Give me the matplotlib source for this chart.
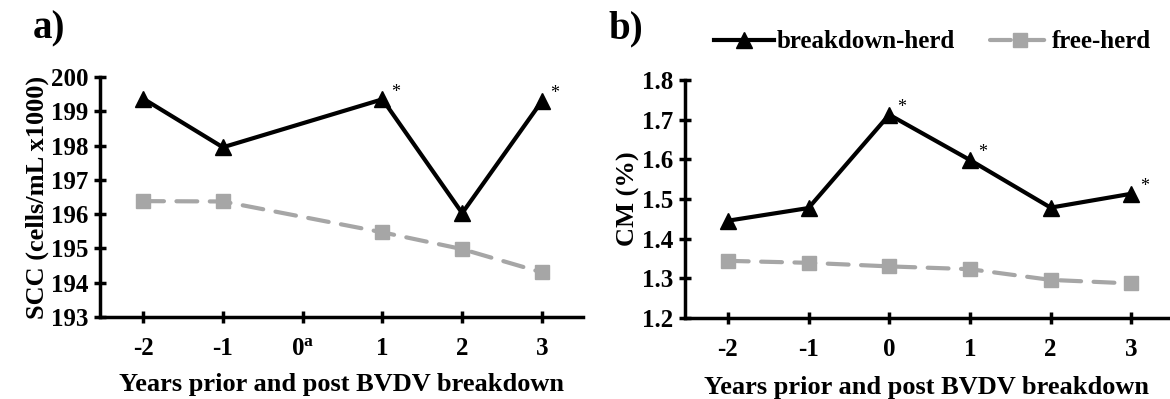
import matplotlib
matplotlib.use('Agg')
import matplotlib.pyplot as plt

years = [-2, -1, 0, 1, 2, 3]

# panel a) SCC
scc_years = [-2, -1, 1, 2, 3]
scc_breakdown = [199.37, 197.95, 199.35, 196.03, 199.3]
scc_free_years = [-2, -1, 1, 2, 3]
scc_free = [196.38, 196.37, 195.47, 194.98, 194.3]
scc_star_years = [1, 3]
scc_ticklabels = ['-2', '-1', '0$^{\\mathrm{a}}$', '1', '2', '3']

# panel b) CM
cm_breakdown = [1.445, 1.477, 1.712, 1.598, 1.478, 1.513]
cm_free = [1.344, 1.339, 1.330, 1.323, 1.296, 1.287]
cm_star_years = [0, 1, 3]
cm_ticklabels = ['-2', '-1', '0', '1', '2', '3']

GRAY = '#a6a6a6'

plt.rcParams['font.family'] = 'Liberation Serif'
plt.rcParams['font.weight'] = 'bold'
plt.rcParams['axes.labelweight'] = 'bold'
plt.rcParams['mathtext.fontset'] = 'custom'
plt.rcParams['mathtext.rm'] = 'Liberation Serif:bold'
plt.rcParams['mathtext.it'] = 'Liberation Serif:bold'

fig = plt.figure(figsize=(11.7, 3.99), dpi=100)
ax1 = fig.add_axes([0.0855, 0.2055, 0.4125, 0.6015])
ax2 = fig.add_axes([0.5855, 0.203, 0.4125, 0.597])


def style_axis(ax):
    for side in ['top', 'right']:
        ax.spines[side].set_visible(False)
    for side in ['left', 'bottom']:
        ax.spines[side].set_linewidth(2.5)
    ax.tick_params(direction='inout', length=9, width=2.5, labelsize=18, pad=4)
    ax.tick_params(axis='x', pad=10)


def draw(ax, xb, yb, xf, yf):
    ax.plot(xf, yf, color=GRAY, lw=3, dashes=(5, 3), dash_capstyle='round',
            marker='s', markersize=10, label='free-herd', zorder=2)
    ax.plot(xb, yb, color='black', lw=3, marker='^', markersize=11.5,
            label='breakdown-herd', zorder=3)


def stars(ax, xs, xdata, ydata):
    for x in xs:
        y = ydata[xdata.index(x)]
        ax.annotate('*', (x, y), xytext=(6, -1), textcoords='offset points',
                    fontsize=13, fontweight='normal', ha='left', va='bottom')


# a)
draw(ax1, scc_years, scc_breakdown, scc_free_years, scc_free)
stars(ax1, scc_star_years, scc_years, scc_breakdown)
style_axis(ax1)
ax1.set_xlim(-2.54, 3.51)
ax1.set_ylim(193, 200)
ax1.set_yticks(range(193, 201))
ax1.set_xticks(years)
ax1.set_xticklabels(scc_ticklabels)
ax1.set_ylabel('SCC (cells/mL x1000)', fontsize=19, labelpad=1)
ax1.set_xlabel('Years prior and post BVDV breakdown', fontsize=19, labelpad=9)
fig.text(0.028, 0.975, 'a)', fontsize=28, fontweight='bold', va='top')

# b)
draw(ax2, years, cm_breakdown, years, cm_free)
stars(ax2, cm_star_years, years, cm_breakdown)
style_axis(ax2)
ax2.set_xlim(-2.53, 3.45)
ax2.set_ylim(1.2, 1.8)
ax2.set_yticks([1.2, 1.3, 1.4, 1.5, 1.6, 1.7, 1.8])
ax2.set_yticklabels(['1.2', '1.3', '1.4', '1.5', '1.6', '1.7', '1.8'])
ax2.set_xticks(years)
ax2.set_xticklabels(cm_ticklabels)
ax2.set_ylabel('CM (%)', fontsize=19, labelpad=1)
ax2.set_xlabel('Years prior and post BVDV breakdown', fontsize=19, labelpad=11)
fig.text(0.52, 0.975, 'b)', fontsize=28, fontweight='bold', va='top')

handles, labels = ax2.get_legend_handles_labels()
fig.legend(handles[::-1], labels[::-1], loc='center', bbox_to_anchor=(0.797, 0.895),
           ncol=2, frameon=False, fontsize=18, handlelength=2.4,
           handletextpad=0.1, columnspacing=1.4)

fig.savefig('out.png', dpi=100)
